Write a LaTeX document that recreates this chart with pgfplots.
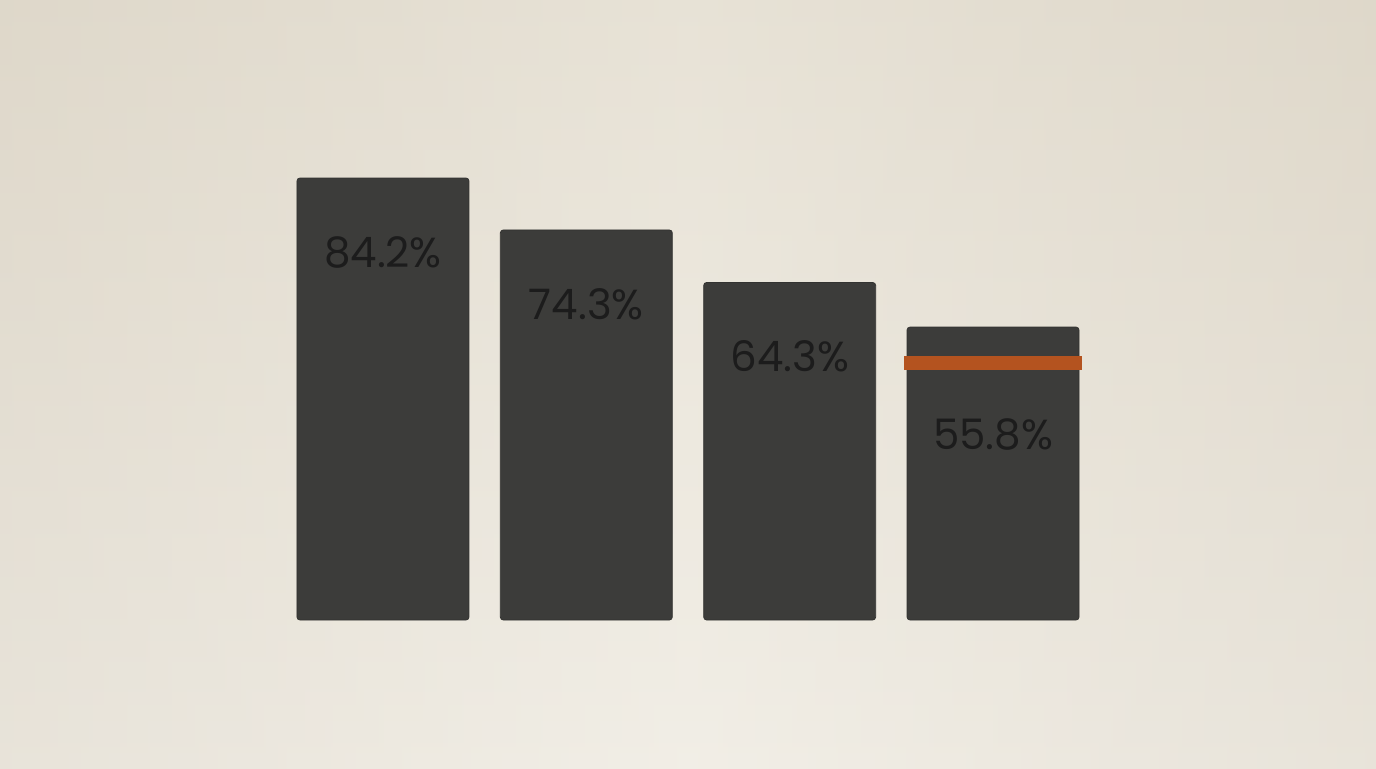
\documentclass[border=0pt]{standalone}
\usepackage{fontspec}
\setmainfont{Poppins}
\usepackage{pgfplots}
\pgfplotsset{compat=1.18}
\definecolor{bgtop}{HTML}{E5DFD2}
\definecolor{bgmid}{HTML}{EDE9DF}
\definecolor{bgbot}{HTML}{F4F1EA}
\definecolor{bgedge}{HTML}{D3CBBC}
\definecolor{barface}{HTML}{3C3C3A}
\definecolor{band}{HTML}{B4531F}
\definecolor{lbl}{HTML}{1C1C1C}

\begin{document}
\begin{tikzpicture}
  % backdrop, 1376x768 px at 0.5pt per px
  \shade[top color=bgtop, middle color=bgmid, bottom color=bgbot] (0,0) rectangle (688pt,384pt);
  \shade[left color=bgedge, right color=bgedge, middle color=bgmid, opacity=0.35] (0,0) rectangle (688pt,384pt);
  \begin{axis}[
      at={(140.65pt,74pt)}, anchor=south west,
      scale only axis,
      width=406.7pt, height=221pt,
      xmin=-0.5, xmax=3.5,
      ymin=0, ymax=84.2,
      hide axis,
      clip=false,
    ]
    % bars
    \addplot[ybar, bar width=86pt, bar shift=0pt, fill=barface, draw=barface!85!black, rounded corners=1.5pt]
      coordinates {(0,84.2) (1,74.3) (2,64.3) (3,55.8)};
    % orange band on the last bar
    \addplot[fill=band, draw=none]
      coordinates {(2.562,47.6) (3.438,47.6) (3.438,50.3) (2.562,50.3)} -- cycle;
    % value labels
    \addplot[draw=none, mark=none,
      nodes near coords, point meta=explicit symbolic,
      every node near coord/.append style={anchor=center, font=\fontsize{21}{24}\selectfont, text=lbl}]
      coordinates {(0,70.1)[84.2\%] (1,60.2)[74.3\%] (2,50.2)[64.3\%] (3,35.4)[55.8\%]};
  \end{axis}
\end{tikzpicture}
\end{document}
